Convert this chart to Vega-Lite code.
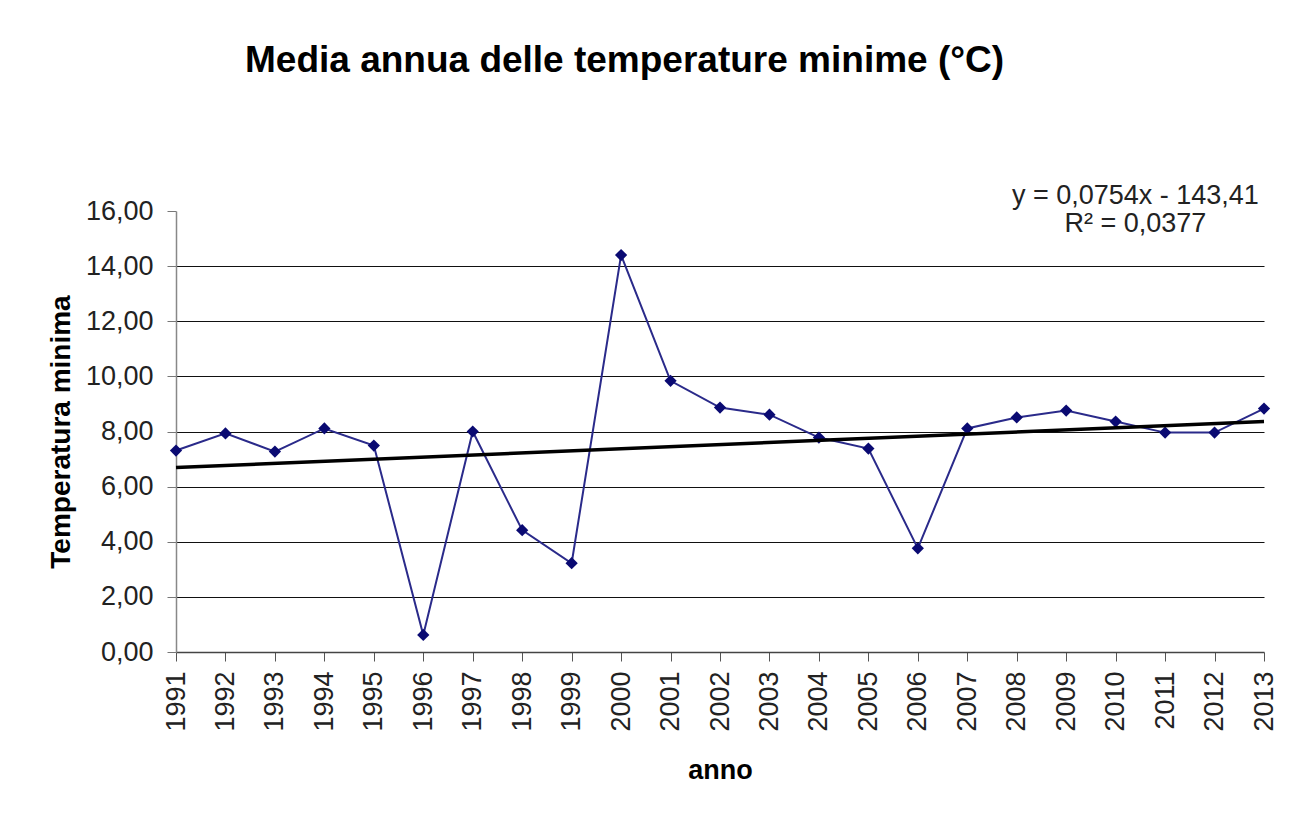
{
  "$schema": "https://vega.github.io/schema/vega-lite/v6.json",
  "width": 1088,
  "height": 441,
  "autosize": {"type": "none"},
  "padding": {"left": 176, "top": 211, "right": 31, "bottom": 180},
  "background": "white",
  "config": {
    "locale": {"number": {"decimal": ",", "thousands": ".", "grouping": [3], "currency": ["€", ""]}},
    "font": "Liberation Sans",
    "view": {"stroke": null}
  },
  "title": {
    "text": "Media annua delle temperature minime (°C)",
    "fontSize": 37,
    "fontWeight": "bold",
    "color": "#000",
    "font": "Liberation Sans",
    "anchor": "start",
    "frame": "group",
    "dx": 69,
    "baseline": "alphabetic",
    "offset": 73
  },
  "datasets": {
    "temps": [
      {"anno": 1991, "temp": 7.31},
      {"anno": 1992, "temp": 7.93},
      {"anno": 1993, "temp": 7.27},
      {"anno": 1994, "temp": 8.11},
      {"anno": 1995, "temp": 7.49},
      {"anno": 1996, "temp": 0.62},
      {"anno": 1997, "temp": 8.0},
      {"anno": 1998, "temp": 4.42},
      {"anno": 1999, "temp": 3.22},
      {"anno": 2000, "temp": 14.4},
      {"anno": 2001, "temp": 9.84},
      {"anno": 2002, "temp": 8.87},
      {"anno": 2003, "temp": 8.61},
      {"anno": 2004, "temp": 7.78},
      {"anno": 2005, "temp": 7.38},
      {"anno": 2006, "temp": 3.76},
      {"anno": 2007, "temp": 8.11},
      {"anno": 2008, "temp": 8.51},
      {"anno": 2009, "temp": 8.76},
      {"anno": 2010, "temp": 8.36},
      {"anno": 2011, "temp": 7.96},
      {"anno": 2012, "temp": 7.96},
      {"anno": 2013, "temp": 8.83}
    ],
    "trend": [
      {"anno": 1991, "trend": 6.69},
      {"anno": 2013, "trend": 8.36}
    ],
    "eq": [
      {"anno": 2010.4, "temp": 16.26, "label": "y = 0,0754x - 143,41"},
      {"anno": 2010.4, "temp": 15.24, "label": "R² = 0,0377"}
    ]
  },
  "layer": [
    {
      "data": {"name": "temps"},
      "mark": {"type": "line", "color": "#2a2a8a", "strokeWidth": 2},
      "encoding": {
        "x": {
          "field": "anno", "type": "quantitative",
          "scale": {"domain": [1991, 2013], "nice": false, "zero": false},
          "axis": {
            "title": "anno",
            "values": [1991,1992,1993,1994,1995,1996,1997,1998,1999,2000,2001,2002,2003,2004,2005,2006,2007,2008,2009,2010,2011,2012,2013],
            "format": "d",
            "labelAngle": -90,
            "labelFontSize": 27,
            "labelColor": "#222",
            "labelPadding": 10,
            "tickSize": 9,
            "tickColor": "#555",
            "domainColor": "#444",
            "domainWidth": 1.5,
            "grid": false,
            "titleFontSize": 27,
            "titleFontWeight": "bold",
            "titleColor": "#000",
            "titlePadding": 26
          }
        },
        "y": {
          "field": "temp", "type": "quantitative",
          "scale": {"domain": [0, 16], "nice": false},
          "axis": {
            "title": "Temperatura minima",
            "values": [0, 2, 4, 6, 8, 10, 12, 14, 16],
            "format": ".2f",
            "labelFontSize": 27,
            "labelColor": "#222",
            "labelPadding": 14,
            "tickSize": 9,
            "tickColor": "#777",
            "domainColor": "#888",
            "domainWidth": 1.5,
            "grid": true,
            "gridColor": {"condition": {"test": "datum.value >= 16 || datum.value <= 0", "value": "transparent"}, "value": "#111"},
            "gridWidth": 1.2,
            "titleFontSize": 28,
            "titleFontWeight": "bold",
            "titleColor": "#000",
            "titlePadding": 10
          }
        }
      }
    },
    {
      "data": {"name": "temps"},
      "mark": {"type": "point", "shape": "diamond", "filled": true, "color": "#0a0a72", "size": 150, "opacity": 1},
      "encoding": {
        "x": {"field": "anno", "type": "quantitative"},
        "y": {"field": "temp", "type": "quantitative"}
      }
    },
    {
      "data": {"name": "trend"},
      "mark": {"type": "line", "color": "#000", "strokeWidth": 3.5},
      "encoding": {
        "x": {"field": "anno", "type": "quantitative"},
        "y": {"field": "trend", "type": "quantitative"}
      }
    },
    {
      "data": {"name": "eq"},
      "mark": {"type": "text", "fontSize": 27, "color": "#222", "align": "center", "baseline": "alphabetic", "clip": false},
      "encoding": {
        "x": {"field": "anno", "type": "quantitative"},
        "y": {"field": "temp", "type": "quantitative"},
        "text": {"field": "label"}
      }
    }
  ]
}
